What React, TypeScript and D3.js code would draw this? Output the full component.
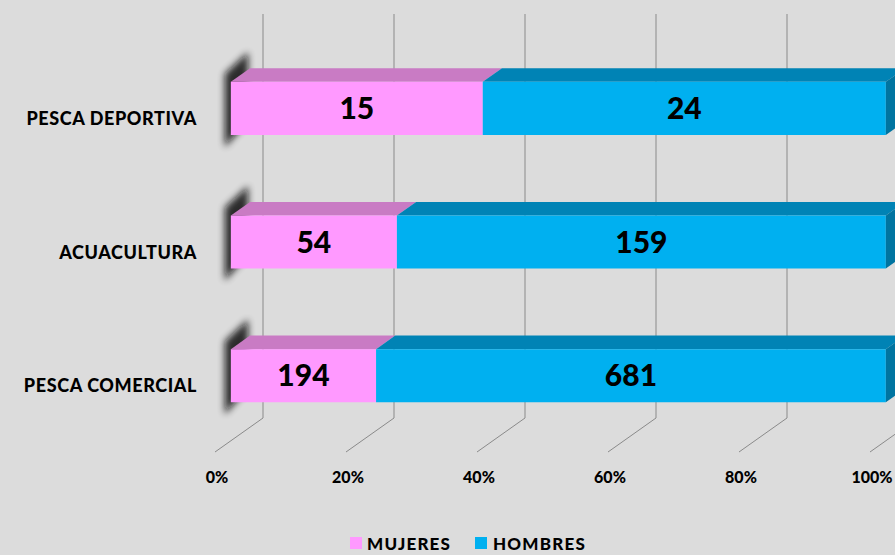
import React from 'react';
import * as d3 from 'd3';

const categories = ['PESCA DEPORTIVA', 'ACUACULTURA', 'PESCA COMERCIAL'];
const mujeres = [15, 54, 194];
const hombres = [24, 159, 681];
const ticks = [0, 0.2, 0.4, 0.6, 0.8, 1];
const seriesNames = ['MUJERES', 'HOMBRES'];

const W = 895;
const H = 555;

// 3D projection: back wall coords, depth z in [0,1] (0 = back wall, 1 = front of floor)
const DEPTH_X = -48;
const DEPTH_Y = 34;
const BAR_FRONT_Z = 0.67;
const BAR_BACK_Z = 0.27;
const WALL_TOP = 14;
const WALL_BOTTOM = 418;

const FONT = 'Lato, "Open Sans", sans-serif';

const colors = {
  mujeres: { front: '#ff99ff', top: '#c97bc4' },
  hombres: { front: '#00b0f0', top: '#0083b5', side: '#0074a0' },
};

const proj = (x: number, y: number, z: number): [number, number] => [x + DEPTH_X * z, y + DEPTH_Y * z];

export default function App() {
  const x = d3.scaleLinear().domain([0, 1]).range([263, 918]);
  const y = d3
    .scaleBand<string>()
    .domain(categories)
    .range([19, 419.5])
    .paddingInner(0.603)
    .paddingOuter(0.3);

  const rows = categories.map((c, i) => {
    const total = mujeres[i] + hombres[i];
    return {
      cat: c,
      segs: [
        { key: 'mujeres', v: mujeres[i], p0: 0, p1: mujeres[i] / total },
        { key: 'hombres', v: hombres[i], p0: mujeres[i] / total, p1: 1 },
      ],
    };
  });

  const pts = (arr: [number, number][]) => arr.map((p) => p.join(',')).join(' ');
  const bw = y.bandwidth();

  return (
    <svg width={W} height={H} style={{ position: 'fixed', left: 0, top: 0 }}>
      <defs>
        <filter id="blur" x="-100%" y="-50%" width="300%" height="200%">
          <feGaussianBlur stdDeviation="3.5" />
        </filter>
      </defs>
      <rect width={W} height={H} fill="#dcdcdc" />

      {/* gridlines: back wall verticals then floor diagonals */}
      {ticks.map((t) => {
        const xb = x(t);
        const [xf, yf] = proj(xb, WALL_BOTTOM, 1);
        return (
          <g key={t} stroke="#8a8a8a" strokeWidth={1} fill="none">
            <polyline points={pts([[xb, WALL_TOP], [xb, WALL_BOTTOM], [xf, yf]])} />
          </g>
        );
      })}

      {rows.map((r) => {
        const yt = y(r.cat)!;
        const yb = yt + bw;
        // left end shadow
        const shadow = pts([
          proj(x(0) - 6, yt - 8, BAR_FRONT_Z),
          proj(x(0) - 2, yt - 16, BAR_BACK_Z),
          proj(x(0) - 2, yb, BAR_BACK_Z),
          proj(x(0) - 6, yb + 12, BAR_FRONT_Z),
        ]);
        return (
          <g key={r.cat}>
            <polygon points={shadow} fill="#111" opacity={0.85} filter="url(#blur)" />
            {r.segs.map((s) => {
              const c = (colors as any)[s.key];
              const x0 = x(s.p0);
              const x1 = x(s.p1);
              const top = pts([
                proj(x0, yt, BAR_FRONT_Z),
                proj(x1, yt, BAR_FRONT_Z),
                proj(x1, yt, BAR_BACK_Z),
                proj(x0, yt, BAR_BACK_Z),
              ]);
              const front = pts([
                proj(x0, yt, BAR_FRONT_Z),
                proj(x1, yt, BAR_FRONT_Z),
                proj(x1, yb, BAR_FRONT_Z),
                proj(x0, yb, BAR_FRONT_Z),
              ]);
              const [lx, ly] = proj((x0 + x1) / 2, yt + bw / 2, BAR_FRONT_Z);
              return (
                <g key={s.key}>
                  <polygon points={top} fill={c.top} />
                  <polygon points={front} fill={c.front} />
                  {s.key === 'hombres' && (
                    <polygon
                      points={pts([
                        proj(x1, yt, BAR_FRONT_Z),
                        proj(x1, yt, BAR_BACK_Z),
                        proj(x1, yb, BAR_BACK_Z),
                        proj(x1, yb, BAR_FRONT_Z),
                      ])}
                      fill={c.side}
                    />
                  )}
                  <text
                    x={lx}
                    y={ly}
                    dy="0.36em"
                    textAnchor="middle"
                    fontFamily={FONT}
                    fontWeight={900}
                    fontSize={30}
                    fill="#000"
                  >
                    {s.v}
                  </text>
                </g>
              );
            })}
            <text
              x={197}
              y={proj(x(0), yt + bw / 2, BAR_FRONT_Z)[1] + 10}
              dy="0.36em"
              textAnchor="end"
              fontFamily={FONT}
              fontWeight={900}
              fontSize={18}
              letterSpacing={0.6}
              fill="#000"
            >
              {r.cat}
            </text>
          </g>
        );
      })}

      {ticks.map((t) => {
        const [xf] = proj(x(t), WALL_BOTTOM, 1);
        return (
          <text
            key={t}
            x={xf + 2}
            y={483}
            textAnchor="middle"
            fontFamily={FONT}
            fontWeight={900}
            fontSize={16}
            fill="#000"
          >
            {d3.format('.0%')(t)}
          </text>
        );
      })}

      <g fontFamily={FONT} fontWeight={900} fontSize={17} letterSpacing={1.2}>
        <rect x={350} y={537} width={12} height={12} fill={colors.mujeres.front} />
        <text x={367} y={550}>{seriesNames[0]}</text>
        <rect x={475} y={537} width={12} height={12} fill={colors.hombres.front} />
        <text x={493} y={550}>{seriesNames[1]}</text>
      </g>
    </svg>
  );
}
